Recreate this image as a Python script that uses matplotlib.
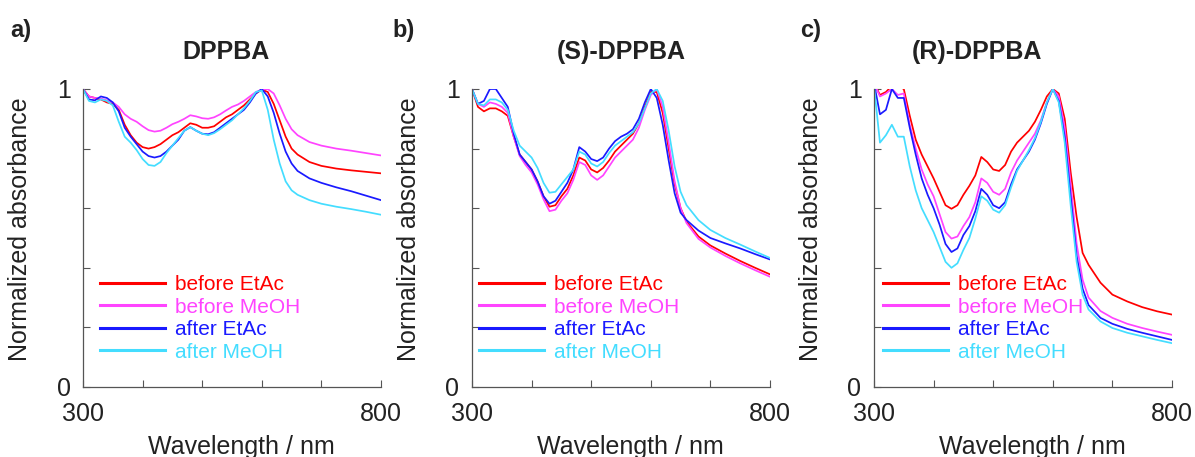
import numpy as np
import matplotlib
matplotlib.use("Agg")
from matplotlib import pyplot as plt

plt.rcParams['font.family'] = ['Liberation Sans', 'DejaVu Sans']

wl = [300, 310, 320, 330, 340, 350, 360, 370, 380, 390, 400, 410, 420, 430, 440,
      450, 460, 470, 480, 490, 500, 510, 520, 530, 540, 550, 560, 570, 580, 590,
      600, 610, 620, 630, 640, 650, 660, 680, 700, 725, 750, 775, 800]

labels = ['before EtAc', 'before MeOH', 'after EtAc', 'after MeOH']
colors = ['#ff0000', '#ff44ff', '#1a1aff', '#44ddff']
titles = ['DPPBA', '(S)-DPPBA', '(R)-DPPBA']
panel_tags = ['a)', 'b)', 'c)']

# panel a: DPPBA
a_before_etac = [1.00, 0.975, 0.97, 0.965, 0.955, 0.95, 0.93, 0.88, 0.845, 0.82, 0.805,
                 0.80, 0.805, 0.815, 0.83, 0.845, 0.855, 0.87, 0.885, 0.88, 0.87, 0.87,
                 0.875, 0.89, 0.905, 0.915, 0.93, 0.945, 0.965, 0.985, 0.998, 0.99, 0.95,
                 0.895, 0.84, 0.80, 0.78, 0.755, 0.742, 0.733, 0.727, 0.722, 0.717]
a_before_meoh = [1.00, 0.975, 0.97, 0.968, 0.962, 0.955, 0.94, 0.915, 0.90, 0.89, 0.875,
                 0.862, 0.857, 0.86, 0.87, 0.882, 0.89, 0.90, 0.912, 0.908, 0.902, 0.90,
                 0.905, 0.915, 0.928, 0.94, 0.948, 0.96, 0.975, 0.99, 0.998, 1.00, 0.985,
                 0.945, 0.90, 0.865, 0.845, 0.822, 0.81, 0.80, 0.793, 0.785, 0.777]
a_after_etac = [1.00, 0.965, 0.962, 0.975, 0.97, 0.955, 0.925, 0.87, 0.84, 0.815, 0.79,
                0.775, 0.77, 0.775, 0.79, 0.81, 0.83, 0.86, 0.872, 0.86, 0.85, 0.848,
                0.855, 0.87, 0.885, 0.90, 0.915, 0.93, 0.955, 0.985, 1.00, 0.975, 0.92,
                0.85, 0.79, 0.75, 0.725, 0.70, 0.685, 0.67, 0.657, 0.642, 0.627]
a_after_meoh = [1.00, 0.96, 0.955, 0.965, 0.96, 0.945, 0.89, 0.84, 0.82, 0.795, 0.765,
                0.745, 0.742, 0.755, 0.785, 0.81, 0.835, 0.86, 0.872, 0.86, 0.85, 0.845,
                0.852, 0.865, 0.88, 0.895, 0.915, 0.935, 0.96, 0.99, 0.995, 0.93, 0.83,
                0.75, 0.69, 0.66, 0.645, 0.627, 0.615, 0.605, 0.597, 0.588, 0.578]

# panel b: (S)-DPPBA
b_before_etac = [1.00, 0.94, 0.925, 0.935, 0.935, 0.925, 0.91, 0.84, 0.78, 0.755, 0.73,
                 0.69, 0.64, 0.605, 0.61, 0.64, 0.665, 0.71, 0.77, 0.76, 0.73, 0.72,
                 0.735, 0.76, 0.79, 0.81, 0.83, 0.85, 0.885, 0.94, 0.99, 0.99, 0.92,
                 0.80, 0.68, 0.60, 0.555, 0.505, 0.475, 0.448, 0.423, 0.40, 0.378]
b_before_meoh = [1.00, 0.95, 0.94, 0.955, 0.95, 0.94, 0.92, 0.84, 0.775, 0.745, 0.72,
                 0.68, 0.63, 0.59, 0.595, 0.625, 0.65, 0.695, 0.755, 0.745, 0.71, 0.695,
                 0.71, 0.74, 0.77, 0.79, 0.81, 0.83, 0.87, 0.93, 0.98, 1.00, 0.94,
                 0.82, 0.69, 0.60, 0.55, 0.497, 0.468, 0.44, 0.415, 0.392, 0.37]
b_after_etac = [1.00, 0.95, 0.96, 1.00, 1.00, 0.97, 0.94, 0.85, 0.78, 0.755, 0.73,
                0.69, 0.64, 0.615, 0.625, 0.655, 0.685, 0.73, 0.805, 0.79, 0.765, 0.758,
                0.77, 0.80, 0.825, 0.84, 0.85, 0.865, 0.90, 0.955, 1.00, 0.97, 0.88,
                0.76, 0.65, 0.585, 0.56, 0.525, 0.50, 0.482, 0.465, 0.446, 0.428]
b_after_meoh = [1.00, 0.95, 0.945, 0.965, 0.965, 0.955, 0.93, 0.86, 0.81, 0.79, 0.77,
                0.735, 0.685, 0.652, 0.655, 0.68, 0.705, 0.73, 0.79, 0.78, 0.75, 0.74,
                0.755, 0.785, 0.81, 0.825, 0.84, 0.855, 0.885, 0.935, 0.985, 1.00, 0.96,
                0.86, 0.74, 0.655, 0.61, 0.56, 0.527, 0.50, 0.478, 0.455, 0.433]

# panel c: (R)-DPPBA
c_before_etac = [1.02, 0.98, 0.99, 1.01, 1.01, 1.00, 0.91, 0.83, 0.78, 0.74, 0.70,
                 0.655, 0.61, 0.598, 0.61, 0.645, 0.675, 0.71, 0.772, 0.755, 0.73, 0.725,
                 0.745, 0.79, 0.82, 0.84, 0.86, 0.89, 0.93, 0.975, 1.00, 0.985, 0.90,
                 0.72, 0.57, 0.45, 0.41, 0.35, 0.31, 0.287, 0.268, 0.254, 0.243]
c_before_meoh = [1.02, 0.975, 0.985, 1.00, 0.98, 0.985, 0.88, 0.80, 0.73, 0.68, 0.64,
                 0.58, 0.52, 0.498, 0.505, 0.54, 0.57, 0.62, 0.70, 0.685, 0.655, 0.645,
                 0.665, 0.72, 0.76, 0.79, 0.82, 0.85, 0.895, 0.955, 1.00, 0.975, 0.87,
                 0.68, 0.48, 0.36, 0.30, 0.255, 0.232, 0.212, 0.198, 0.186, 0.175]
c_after_etac = [1.02, 0.915, 0.93, 1.00, 0.97, 0.97, 0.87, 0.78, 0.70, 0.645, 0.60,
                0.545, 0.48, 0.453, 0.465, 0.51, 0.54, 0.59, 0.665, 0.645, 0.61, 0.60,
                0.62, 0.68, 0.73, 0.76, 0.79, 0.83, 0.885, 0.95, 1.00, 0.96, 0.84,
                0.64, 0.44, 0.33, 0.275, 0.232, 0.212, 0.195, 0.182, 0.17, 0.158]
c_after_meoh = [1.01, 0.82, 0.845, 0.88, 0.84, 0.84, 0.74, 0.66, 0.60, 0.56, 0.52,
                0.47, 0.42, 0.40, 0.415, 0.46, 0.50, 0.565, 0.64, 0.625, 0.595, 0.585,
                0.61, 0.67, 0.725, 0.76, 0.795, 0.835, 0.89, 0.955, 1.00, 0.955, 0.82,
                0.61, 0.42, 0.31, 0.26, 0.22, 0.198, 0.182, 0.17, 0.158, 0.147]

panels = [
    [a_before_etac, a_before_meoh, a_after_etac, a_after_meoh],
    [b_before_etac, b_before_meoh, b_after_etac, b_after_meoh],
    [c_before_etac, c_before_meoh, c_after_etac, c_after_meoh],
]

fig = plt.figure(figsize=(11.95, 4.57), dpi=100)
W, H = 1195, 457
lefts = [83, 472, 874]
tag_x = [10, 392, 800]
title_x = [0.48, 0.5, 0.346]
leg_x = [0.057, 0.024, 0.03]
axis_gray = '#555555'

for i in range(3):
    ax = fig.add_axes([lefts[i] / W, 1 - 387 / H, 298 / W, 298 / H])
    for k in range(4):
        ax.plot(wl, panels[i][k], color=colors[k], lw=1.25, label=labels[k])
    ax.set_xlim(300, 800)
    ax.set_ylim(0, 1)
    ax.set_xticks([300, 400, 500, 600, 700, 800])
    ax.set_xticklabels(['300', '', '', '', '', '800'])
    ax.set_yticks([0, 0.2, 0.4, 0.6, 0.8, 1.0])
    ax.set_yticklabels(['0', '', '', '', '', '1'])
    ax.tick_params(direction='in', length=5, width=0.8, color=axis_gray,
                   labelsize=18, labelcolor='#222222')
    ax.tick_params(axis='x', pad=11)
    ax.tick_params(axis='y', pad=9)
    for s in ['top', 'right']:
        ax.spines[s].set_visible(False)
    for s in ['left', 'bottom']:
        ax.spines[s].set_color(axis_gray)
        ax.spines[s].set_linewidth(0.9)

    ax.set_ylabel('Normalized absorbance', fontsize=18, color='#222222')
    ax.yaxis.set_label_coords(-0.171, 0.53)
    ax.set_xlabel('Wavelength / nm', fontsize=18, color='#222222')
    ax.xaxis.set_label_coords(0.533, -0.16)
    ax.text(title_x[i], 1.124, titles[i], transform=ax.transAxes, ha='center',
            va='center', fontsize=18, fontweight='bold', color='#222222')
    fig.text(tag_x[i] / W, 1 - 30 / H, panel_tags[i], ha='left', va='center',
             fontsize=17, fontweight='bold', color='#222222')

    leg = ax.legend(loc='lower left', bbox_to_anchor=(leg_x[i], 0.085), frameon=False,
                    fontsize=15, handlelength=3.1, handletextpad=0.5,
                    labelspacing=0.17, borderpad=0, borderaxespad=0)
    for line, txt, c in zip(leg.get_lines(), leg.get_texts(), colors):
        line.set_linewidth(2.2)
        txt.set_color(c)

fig.savefig('out.png', dpi=100)
